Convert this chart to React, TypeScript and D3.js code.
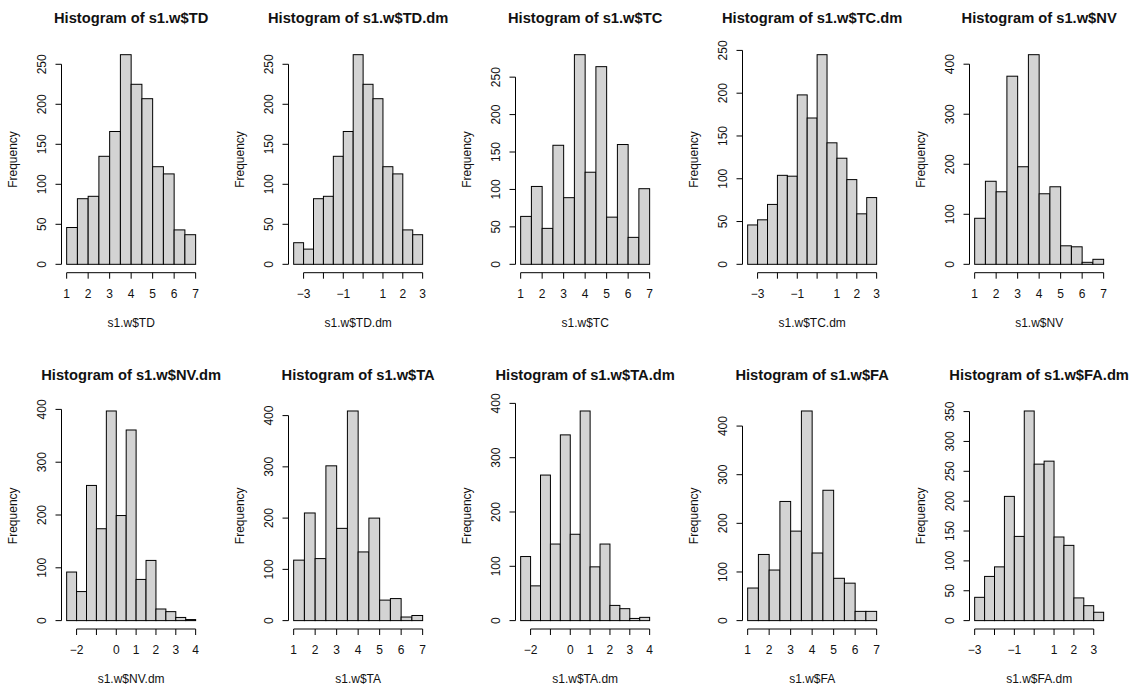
import React from "react";
import * as d3 from "d3";

// ---- data ----
const titles = ["s1.w$TD", "s1.w$TD.dm", "s1.w$TC", "s1.w$TC.dm", "s1.w$NV",
  "s1.w$NV.dm", "s1.w$TA", "s1.w$TA.dm", "s1.w$FA", "s1.w$FA.dm"];
const binWidth = 0.5;
const breakStarts = [1, -3.5, 1, -3.5, 1, -2.5, 1, -2.5, 1, -3];

const countsTD = [46, 82, 85, 135, 166, 262, 225, 207, 122, 113, 43, 37];
const countsTDdm = [27, 19, 82, 85, 135, 166, 262, 225, 207, 122, 113, 43, 37];
const countsTC = [64, 104, 48, 159, 89, 280, 123, 264, 63, 160, 36, 101];
const countsTCdm = [46, 52, 70, 104, 103, 198, 171, 245, 142, 124, 99, 59, 78];
const countsNV = [92, 166, 145, 376, 195, 419, 141, 155, 37, 35, 4, 10];
const countsNVdm = [92, 55, 256, 174, 397, 199, 361, 78, 114, 22, 17, 6, 2];
const countsTA = [118, 210, 121, 302, 180, 409, 134, 200, 40, 43, 7, 10];
const countsTAdm = [118, 64, 268, 141, 342, 159, 386, 99, 141, 28, 22, 4, 6];
const countsFA = [67, 136, 104, 245, 184, 431, 139, 268, 87, 77, 19, 19];
const countsFAdm = [39, 74, 90, 208, 141, 351, 262, 267, 140, 126, 38, 25, 14];
const allCounts = [countsTD, countsTDdm, countsTC, countsTCdm, countsNV,
  countsNVdm, countsTA, countsTAdm, countsFA, countsFAdm];

const yTicks250 = [0, 50, 100, 150, 200, 250];
const yTicks400 = [0, 100, 200, 300, 400];
const yTicks350 = [0, 50, 100, 150, 200, 250, 300, 350];
const allYTicks = [yTicks250, yTicks250, yTicks250, yTicks250, yTicks400,
  yTicks400, yTicks400, yTicks400, yTicks400, yTicks350];

const xTicks1to7 = [1, 2, 3, 4, 5, 6, 7];
const xTicksM3to3 = [-3, -2, -1, 0, 1, 2, 3];
const xTicksM2to4 = [-2, -1, 0, 1, 2, 3, 4];
const allXTicks = [xTicks1to7, xTicksM3to3, xTicks1to7, xTicksM3to3, xTicks1to7,
  xTicksM2to4, xTicks1to7, xTicksM2to4, xTicks1to7, xTicksM3to3];

// labels R actually printed (others dropped for overlap)
const xLabels1to7 = [1, 2, 3, 4, 5, 6, 7];
const xLabelsM3to3 = [-3, -1, 1, 2, 3];
const xLabelsM2to4 = [-2, 0, 1, 2, 3, 4];
const allXLabels = [xLabels1to7, xLabelsM3to3, xLabels1to7, xLabelsM3to3, xLabels1to7,
  xLabelsM2to4, xLabels1to7, xLabelsM2to4, xLabels1to7, xLabelsM3to3];

// ---- layout ----
const W = 1135, H = 686;
const colW = 227;
const rowOffset = [0, 356.3];
const plotLeft = 61.5, plotW = 139.3;
const plotTop = 46.3, plotH = 226.4;
const FONT = "'Liberation Sans', Arial, Helvetica, sans-serif";
const TXT = "#111";

const fmt = (v: number) => (v < 0 ? "\u2212" + Math.abs(v) : String(v));

function Panel({ idx }: { idx: number }) {
  const counts = allCounts[idx];
  const start = breakStarts[idx];
  const end = start + counts.length * binWidth;
  const ox = (idx % 5) * colW;
  const oy = rowOffset[Math.floor(idx / 5)];
  const span = end - start;
  const xs = d3.scaleLinear().domain([start - 0.04 * span, end + 0.04 * span])
    .range([ox + plotLeft, ox + plotLeft + plotW]);
  const maxC = d3.max(counts) as number;
  const ys = d3.scaleLinear().domain([-0.04 * maxC, 1.04 * maxC])
    .range([oy + plotTop + plotH, oy + plotTop]);
  const yT = allYTicks[idx];
  const xT = allXTicks[idx];
  const xL = allXLabels[idx];
  const bottom = oy + plotTop + plotH;
  const left = ox + plotLeft;
  const cx = ox + plotLeft + plotW / 2;
  return (
    <g>
      <text x={cx} y={oy + 18.3} dy="0.35em" textAnchor="middle" fontFamily={FONT}
        fontWeight="bold" fontSize={14.7} fill={TXT}>{"Histogram of " + titles[idx]}</text>
      {counts.map((c, i) => {
        const x0 = xs(start + i * binWidth);
        const x1 = xs(start + (i + 1) * binWidth);
        return (
          <rect key={i} x={x0} y={ys(c)} width={x1 - x0} height={ys(0) - ys(c)}
            fill="#D3D3D3" stroke="#000" strokeWidth={1} />
        );
      })}
      {/* y axis */}
      <line x1={left} x2={left} y1={ys(yT[0])} y2={ys(yT[yT.length - 1])} stroke="#000" strokeWidth={1} />
      {yT.map((t) => (
        <g key={"y" + t}>
          <line x1={left - 6} x2={left} y1={ys(t)} y2={ys(t)} stroke="#000" strokeWidth={1} />
          <text transform={`translate(${ox + 41.7},${ys(t)}) rotate(-90)`} dy="0.35em"
            textAnchor="middle" fontFamily={FONT} fontSize={12} fill={TXT}>{fmt(t)}</text>
        </g>
      ))}
      {/* x axis */}
      <line x1={xs(xT[0])} x2={xs(xT[xT.length - 1])} y1={bottom} y2={bottom} stroke="#000" strokeWidth={1} />
      {xT.map((t) => (
        <line key={"xt" + t} x1={xs(t)} x2={xs(t)} y1={bottom} y2={bottom + 6} stroke="#000" strokeWidth={1} />
      ))}
      {xL.map((t) => (
        <text key={"xl" + t} x={xs(t)} y={bottom + 20.6} dy="0.35em" textAnchor="middle"
          fontFamily={FONT} fontSize={12} fill={TXT}>{fmt(t)}</text>
      ))}
      <text x={cx} y={oy + 322.7} dy="0.35em" textAnchor="middle" fontFamily={FONT}
        fontSize={12} fill={TXT}>{titles[idx]}</text>
      <text transform={`translate(${ox + 12.3},${oy + plotTop + plotH / 2}) rotate(-90)`} dy="0.35em"
        textAnchor="middle" fontFamily={FONT} fontSize={12} fill={TXT}>Frequency</text>
    </g>
  );
}

export default function App() {
  return (
    <svg width={W} height={H} style={{ position: "absolute", left: 0, top: 0, background: "#fff" }}>
      <rect x={0} y={0} width={W} height={H} fill="#fff" />
      {titles.map((_, i) => <Panel key={i} idx={i} />)}
    </svg>
  );
}
